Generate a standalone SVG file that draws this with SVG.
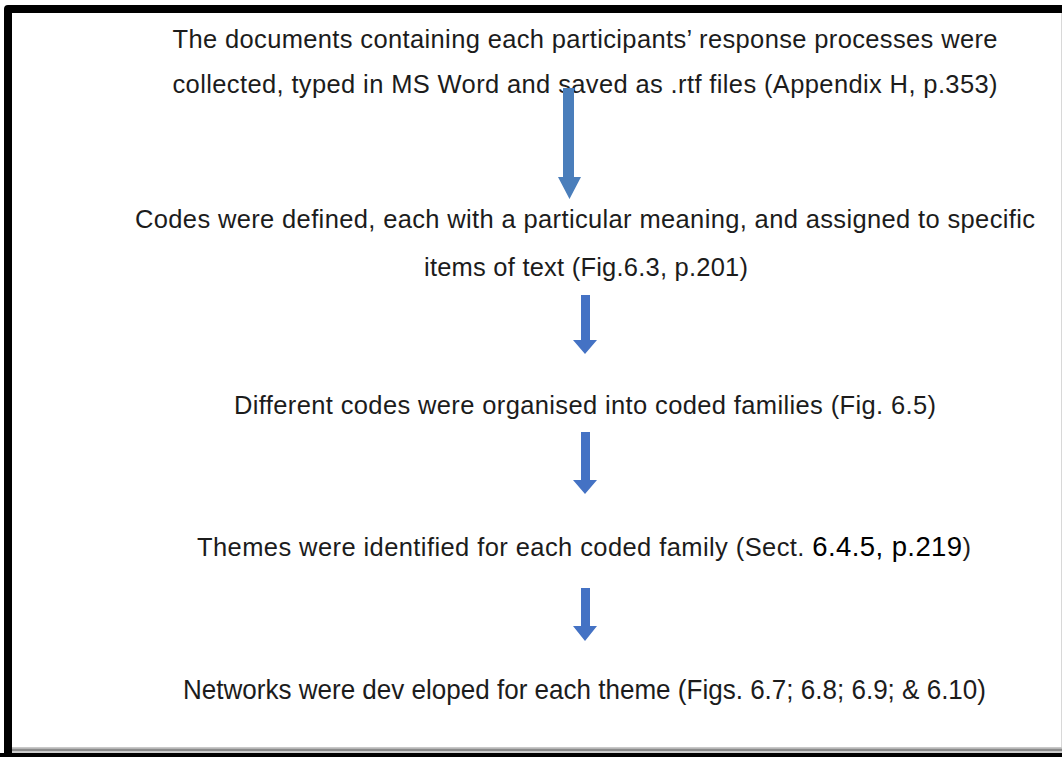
<svg xmlns="http://www.w3.org/2000/svg" width="1062" height="757" viewBox="0 0 1062 757">
  <style>
    .t { font-family: "Liberation Sans", Arial, sans-serif; font-size: 25.5px; fill: #1c1c1c; }
    .big { font-size: 27.5px; fill: #000; }
    .narrow { font-family: "Liberation Sans Narrow", "Liberation Sans", Arial, sans-serif; font-size: 28px; fill: #1c1c1c; }
    .a1 { fill: #4A7EBB; }
    .a { fill: #4472C4; }
  </style>
  <rect width="1062" height="757" fill="#fff"/>
  <!-- frame -->
  <g id="frame">
    <path d="M8 757 V9 H1062" fill="none" stroke="#000" stroke-width="8" stroke-linejoin="round"/>
    <line x1="1061.5" y1="13" x2="1061.5" y2="747" stroke="#d8d8d8" stroke-width="1"/>
    <rect x="12" y="747" width="1050" height="1.5" fill="#c8c8c8"/>
    <rect x="12" y="748.5" width="1050" height="3" fill="#8a8a8a"/>
    <rect x="12" y="751.5" width="1050" height="1.5" fill="#cfcfcf"/>
    <rect x="0" y="753" width="1062" height="4" fill="#000"/>
  </g>
  <!-- steps -->
  <g id="step1">
    <text class="t" x="585" y="48" text-anchor="middle" textLength="825">The documents containing each participants’ response processes were</text>
    <text class="t" x="585" y="93" text-anchor="middle" textLength="825">collected, typed in MS Word and saved as .rtf files (Appendix H, p.353)</text>
  </g>
  <g id="step2">
    <text class="t" x="585" y="228" text-anchor="middle" textLength="900">Codes were defined, each with a particular meaning, and assigned to specific</text>
    <text class="t" x="586" y="276" text-anchor="middle" textLength="324">items of text (Fig.6.3, p.201)</text>
  </g>
  <g id="step3">
    <text class="t" x="585" y="414" text-anchor="middle" textLength="702">Different codes were organised into coded families (Fig. 6.5)</text>
  </g>
  <g id="step4">
    <text class="t" x="197" y="556" textLength="774">Themes were identified for each coded family (Sect. <tspan class="big">6.4.5, p.219</tspan>)</text>
  </g>
  <g id="step5">
    <text class="narrow" x="584.5" y="699" text-anchor="middle" textLength="803" lengthAdjust="spacingAndGlyphs">Networks were dev eloped for each theme (Figs. 6.7; 6.8; 6.9; &amp; 6.10)</text>
  </g>
  <!-- connectors -->
  <g id="connectors">
    <path class="a1" d="M563 88 H574 V177 H581 L569.5 199 L558 177 H563 Z"/>
    <path class="a" d="M581 295 H590 V340 H597 L585 354 L573 340 H581 Z"/>
    <path class="a" d="M581 432 H590 V480 H597 L585 494 L573 480 H581 Z"/>
    <path class="a" d="M581 588 H590 V626 H597 L585 641 L573 626 H581 Z"/>
  </g>
</svg>
